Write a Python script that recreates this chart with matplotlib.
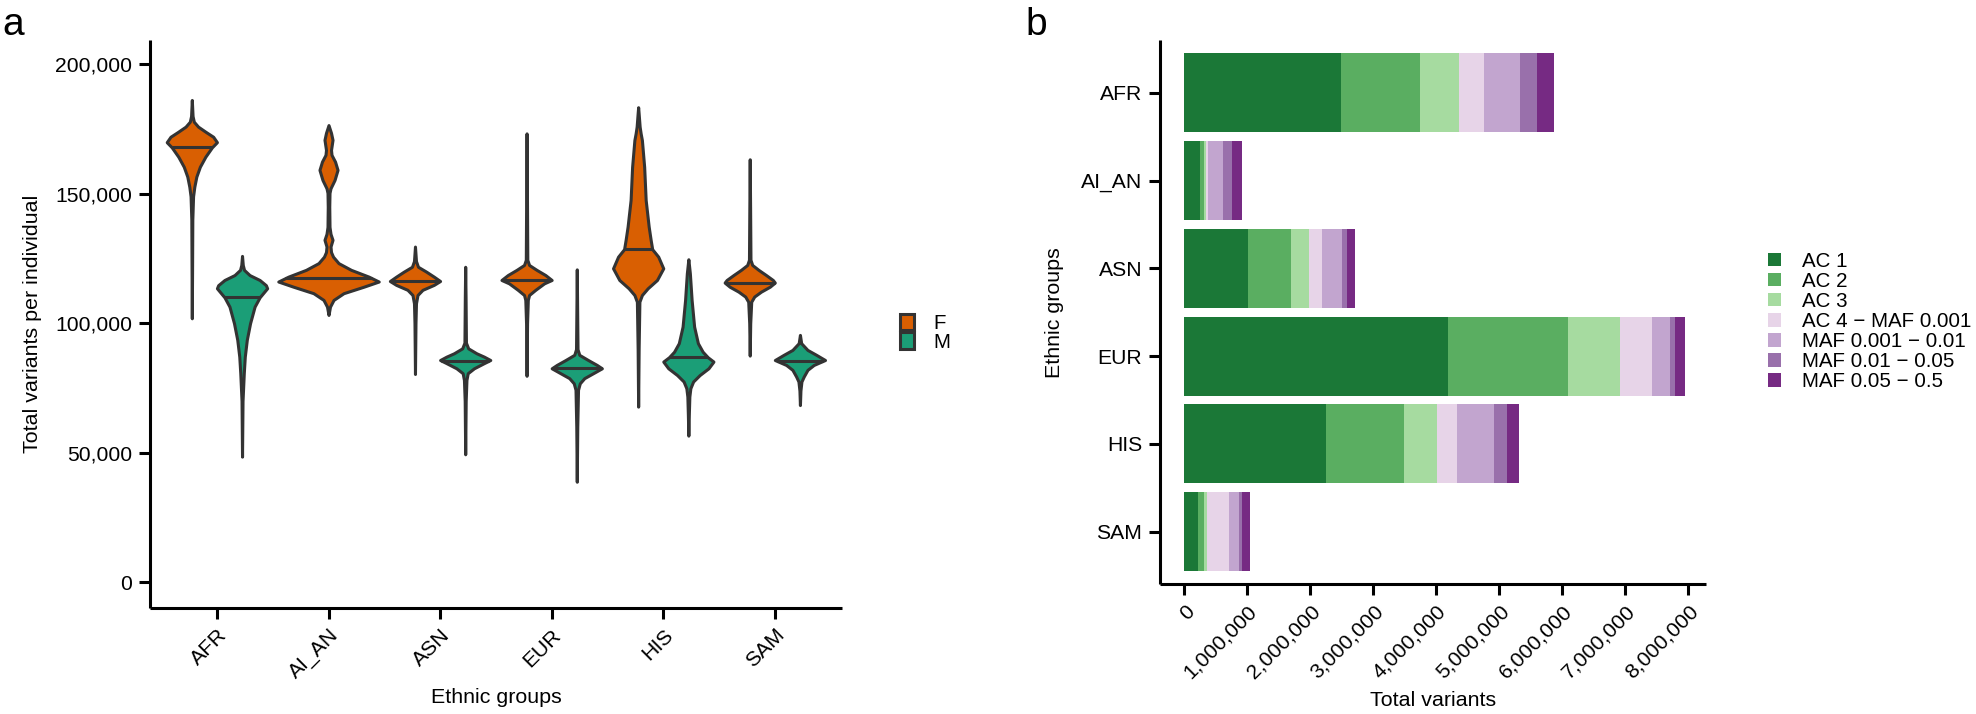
import numpy as np
import matplotlib.pyplot as plt
from matplotlib.patches import Patch
from matplotlib.ticker import FuncFormatter, MultipleLocator

plt.rcParams['font.family'] = ['Liberation Sans', 'DejaVu Sans']

groups = ['AFR', 'AI_AN', 'ASN', 'EUR', 'HIS', 'SAM']

# --- panel a: violin outlines -------------------------------------------
# each row: (total variants in thousands, relative half-width of the violin)
afr_f = [(101.9, 0), (120, 0.01), (140, 0.02), (149, 0.05), (152.7, 0.1), (156.6, 0.18),
         (160.4, 0.32), (164.3, 0.54), (167.9, 0.8), (169.9, 1.0), (172.0, 0.85),
         (173.9, 0.55), (175.9, 0.25), (177.8, 0.08), (180, 0.03), (186.2, 0)]
afr_m = [(48.5, 0), (70, 0.02), (80.7, 0.07), (87.1, 0.11), (93.6, 0.19), (100, 0.32),
         (106.4, 0.5), (110, 0.7), (113.5, 1.0), (114.7, 0.95), (116.7, 0.7), (118.6, 0.3),
         (120.6, 0.08), (122.5, 0.03), (126, 0)]
aian_f = [(103.2, 0), (106.4, 0.03), (109, 0.1), (111.6, 0.3), (114.1, 0.7), (116.1, 1.0),
          (118.0, 0.8), (120.6, 0.45), (123.2, 0.2), (125.7, 0.09), (127.5, 0.05),
          (129.6, 0.04), (132.2, 0.08), (134.5, 0.04), (137.2, 0.02), (145, 0.015),
          (150.3, 0.02), (152.1, 0.04), (155.3, 0.12), (159.2, 0.18), (162.4, 0.13),
          (165, 0.06), (166.9, 0.05), (170.8, 0.08), (173.5, 0.05), (176.5, 0)]
asn_f = [(80.4, 0), (100, 0.02), (107.7, 0.04), (110.9, 0.1), (112.9, 0.3), (114.8, 0.75),
         (116.3, 1.0), (118, 0.75), (119.9, 0.45), (121.8, 0.12), (124, 0.04), (129.6, 0)]
asn_m = [(49.4, 0), (70, 0.02), (78.1, 0.05), (80.7, 0.1), (82.6, 0.35), (84.6, 0.75),
         (85.8, 1.0), (87.1, 0.75), (88.4, 0.45), (90.3, 0.12), (92.5, 0.03), (110, 0.015),
         (121.8, 0)]
eur_f = [(79.7, 0), (100, 0.02), (109, 0.05), (110.9, 0.1), (112.9, 0.35), (115.4, 0.7),
         (116.7, 1.0), (118.6, 0.75), (120.6, 0.4), (122.5, 0.1), (124.5, 0.03),
         (150, 0.015), (173.3, 0)]
eur_m = [(38.8, 0), (60, 0.02), (74.3, 0.05), (76.8, 0.12), (78.8, 0.3), (80.7, 0.65),
         (82.6, 1.0), (83.9, 0.8), (85.8, 0.45), (87.8, 0.1), (90, 0.03), (105, 0.015),
         (120.8, 0)]
his_f = [(67.8, 0), (90, 0.02), (108.3, 0.05), (110.9, 0.15), (113.5, 0.38), (116.7, 0.75),
         (121.2, 1.0), (125.7, 0.8), (128.6, 0.56), (132.1, 0.5), (137.3, 0.42),
         (147.6, 0.3), (160.4, 0.24), (170.7, 0.15), (173.3, 0.1), (175.9, 0.06),
         (181, 0.02), (183.4, 0)]
his_m = [(56.6, 0), (65, 0.02), (71.7, 0.04), (74.9, 0.08), (77.5, 0.19), (80, 0.45),
         (82.6, 0.8), (85.2, 1.0), (86.9, 0.77), (89, 0.57), (92.3, 0.38), (98.7, 0.23),
         (109, 0.13), (119.3, 0.06), (124.7, 0)]
sam_f = [(87.5, 0), (100, 0.02), (108.3, 0.06), (110.3, 0.18), (112.2, 0.45), (114.1, 0.8),
         (115.7, 1.0), (116.7, 0.92), (118.6, 0.65), (120.6, 0.35), (122.5, 0.1),
         (124.5, 0.03), (145, 0.015), (163.3, 0)]
sam_m = [(68.4, 0), (74, 0.02), (77.5, 0.06), (79.4, 0.15), (82, 0.3), (83.9, 0.55),
         (85.8, 1.0), (87.8, 0.65), (89.7, 0.3), (92.3, 0.05), (95.5, 0)]

# medians (thousands)
med_f = [167.9, 117.4, 116.3, 116.6, 128.6, 115.7]
med_m = [110.0, None, 85.6, 82.6, 86.9, 85.4]

prof_f = [afr_f, aian_f, asn_f, eur_f, his_f, sam_f]
prof_m = [afr_m, None, asn_m, eur_m, his_m, sam_m]

# --- panel b: stacked bars --------------------------------------------------
classes = ['AC 1', 'AC 2', 'AC 3', 'AC 4 \u2212 MAF 0.001', 'MAF 0.001 \u2212 0.01',
           'MAF 0.01 \u2212 0.05', 'MAF 0.05 \u2212 0.5']
ac1 = [2484000, 239000, 1005000, 4176000, 2245000, 218000]
ac2 = [1250000, 75000, 692000, 1909000, 1244000, 96000]
ac3 = [622000, 32000, 282000, 835000, 516000, 48000]
ac4_maf0001 = [394000, 21000, 202000, 500000, 314000, 340000]
maf0001_001 = [580000, 250000, 319000, 287000, 601000, 170000]
maf001_005 = [260000, 133000, 74000, 86000, 197000, 43000]
maf005_05 = [272000, 165000, 128000, 154000, 192000, 128000]
class_colors = ['#1B7837', '#5AAE61', '#A6DBA0', '#E7D4E8', '#C2A5CF', '#9970AB', '#762A83']

DARK = '#333333'
LW = 1.1

fig = plt.figure(figsize=(9.88, 3.57), dpi=200)
ax1 = fig.add_axes([0.0759, 0.1486, 0.3501, 0.7952])
ax2 = fig.add_axes([0.5869, 0.1818, 0.2765, 0.7620])


def draw_violin(ax, prof, pos, width, color, med):
    prof = np.array(prof, dtype=float)
    ys = prof[:, 0] * 1000
    w = prof[:, 1]
    stats = [dict(coords=ys, vals=w, mean=np.nan, median=med * 1000,
                  min=ys.min(), max=ys.max())]
    parts = ax.violin(stats, positions=[pos], widths=[width], showmeans=False,
                      showextrema=False, showmedians=False)
    body = parts['bodies'][0]
    body.set_facecolor(color)
    body.set_edgecolor(DARK)
    body.set_linewidth(LW)
    body.set_alpha(1)
    body.set_joinstyle('round')
    half = 0.5 * width * np.interp(med * 1000, ys, w)
    ax.hlines(med * 1000, pos - half, pos + half, color=DARK, lw=LW, zorder=3)


for i in range(len(groups)):
    if prof_m[i] is None:
        draw_violin(ax1, prof_f[i], i, 0.9, '#D95F02', med_f[i])
    else:
        draw_violin(ax1, prof_f[i], i - 0.225, 0.45, '#D95F02', med_f[i])
        draw_violin(ax1, prof_m[i], i + 0.225, 0.45, '#1B9E77', med_m[i])

ax1.set_xlim(-0.6, 5.6)
ax1.set_ylim(-9900, 209300)
ax1.set_xticks(range(len(groups)))
ax1.set_xticklabels(groups, rotation=45, ha='right', rotation_mode='anchor')
ax1.yaxis.set_major_locator(MultipleLocator(50000))
ax1.yaxis.set_major_formatter(FuncFormatter(lambda v, p: f'{int(v):,}'))
ax1.set_xlabel('Ethnic groups', fontsize=7.7, labelpad=2)
ax1.set_ylabel('Total variants per individual', fontsize=7.7, labelpad=5)

leg1 = fig.legend(handles=[Patch(facecolor='#D95F02', edgecolor=DARK, lw=LW, label='F'),
                           Patch(facecolor='#1B9E77', edgecolor=DARK, lw=LW, label='M')],
                  loc='center left', bbox_to_anchor=(0.4555, 0.534), frameon=False,
                  fontsize=7.4, handlelength=0.68, handleheight=0.83, handletextpad=0.95,
                  labelspacing=-0.03, borderpad=0, borderaxespad=0)

# stacked bars
series = [ac1, ac2, ac3, ac4_maf0001, maf0001_001, maf001_005, maf005_05]
left = np.zeros(len(groups))
for vals, name, col in zip(series, classes, class_colors):
    ax2.barh(groups, vals, left=left, height=0.9, color=col, label=name, linewidth=0)
    left += np.array(vals)

ax2.set_ylim(5.6, -0.6)
ax2.set_xlim(-393000, 8280000)
ax2.xaxis.set_major_locator(MultipleLocator(1000000))
ax2.xaxis.set_major_formatter(FuncFormatter(lambda v, p: f'{int(v):,}'))
for lab in ax2.get_xticklabels():
    lab.set_rotation(45)
    lab.set_ha('right')
    lab.set_rotation_mode('anchor')
ax2.set_xlabel('Total variants', fontsize=7.7, labelpad=3)
ax2.set_ylabel('Ethnic groups', fontsize=7.7, labelpad=6)

leg2 = ax2.legend(loc='center left', bbox_to_anchor=(0.8947, 0.5497),
                  bbox_transform=fig.transFigure, frameon=False, fontsize=7.4,
                  handlelength=0.63, handleheight=0.63, handletextpad=1.05,
                  labelspacing=0.05, borderpad=0, borderaxespad=0)

for ax in (ax1, ax2):
    for s in ('top', 'right'):
        ax.spines[s].set_visible(False)
    for s in ('left', 'bottom'):
        ax.spines[s].set_linewidth(LW)
        ax.spines[s].set_capstyle('butt')
    ax.tick_params(width=LW, length=3.8, labelsize=7.6, pad=2.5, colors='black')

fig.text(0.001, 0.99, 'a', fontsize=14, va='top', ha='left')
fig.text(0.519, 0.99, 'b', fontsize=14, va='top', ha='left')

fig.savefig('out.png', dpi=200, facecolor='white')
